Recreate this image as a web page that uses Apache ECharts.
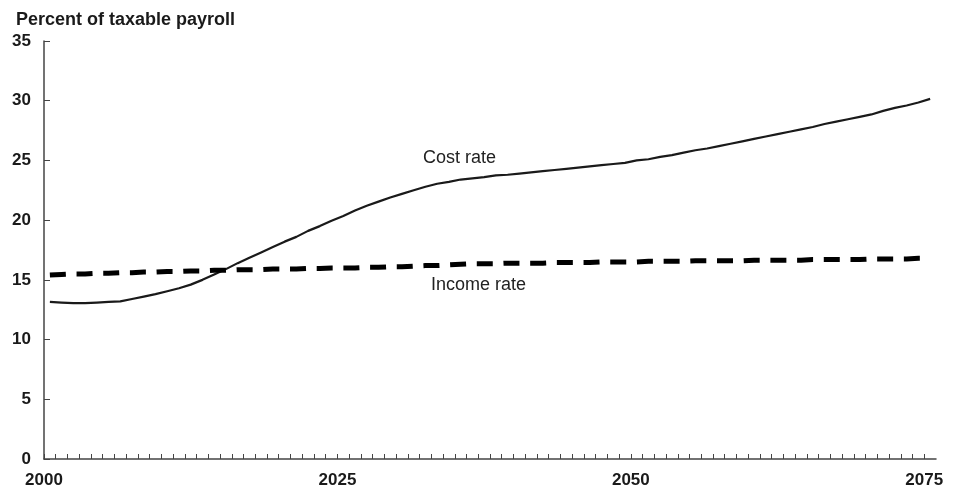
<!DOCTYPE html>
<html>
<head>
<meta charset="utf-8">
<script src="https://cdn.jsdelivr.net/npm/echarts@6/dist/echarts.min.js"></script>
<style>html,body{margin:0;padding:0;background:#fff;}#c{width:959px;height:492px;}</style>
</head>
<body>
<div id="c"></div>
<script>
var years = [];
for (var y = 2000; y <= 2075; y++) years.push(y);

var costRate = [
13.15,13.1,13.05,13.05,13.1,13.15,13.2,13.4,13.6,13.8,
14.05,14.3,14.6,15.0,15.45,15.9,16.4,16.85,17.3,17.75,
18.2,18.6,19.1,19.5,19.95,20.35,20.8,21.2,21.55,21.9,
22.2,22.5,22.8,23.05,23.2,23.4,23.5,23.6,23.75,23.8,
23.9,24.0,24.1,24.2,24.3,24.4,24.5,24.6,24.7,24.8,
25.0,25.1,25.3,25.45,25.65,25.85,26.0,26.2,26.4,26.6,
26.8,27.0,27.2,27.4,27.6,27.8,28.05,28.25,28.45,28.65,
28.85,29.15,29.4,29.6,29.85,30.15
];

var incomeRate = [
15.4,15.45,15.5,15.5,15.55,15.55,15.6,15.6,15.65,15.65,
15.7,15.7,15.75,15.75,15.8,15.8,15.85,15.85,15.85,15.9,
15.9,15.9,15.95,15.95,16.0,16.0,16.0,16.05,16.05,16.1,
16.1,16.15,16.2,16.2,16.25,16.3,16.35,16.35,16.35,16.4,
16.4,16.4,16.4,16.45,16.45,16.45,16.45,16.5,16.5,16.5,
16.5,16.55,16.55,16.55,16.55,16.6,16.6,16.6,16.6,16.6,
16.65,16.65,16.65,16.65,16.65,16.7,16.7,16.7,16.7,16.7,
16.75,16.75,16.75,16.75,16.8,16.8
];

var yTicks = [0,5,10,15,20,25,30,35];
var xLabelYears = [2000,2025,2050,2075];

function pairs(vals) {
  return years.map(function (yr, i) { return [yr + 0.5, vals[i]]; });
}

var axisColor = '#444';
var fam = '"Liberation Sans", Arial, sans-serif';
var chart = echarts.init(document.getElementById('c'));
chart.setOption({
  animation: false,
  backgroundColor: '#fff',
  grid: { left: 44, right: 23, top: 41, bottom: 33 },
  title: {
    text: 'Percent of taxable payroll',
    left: 11, top: 6,
    textStyle: { fontFamily: fam, fontWeight: 'bold', fontSize: 18, color: '#1a1a1a' }
  },
  xAxis: {
    type: 'value', min: 2000, max: 2076, interval: 1,
    axisLine: { show: true, lineStyle: { color: axisColor, width: 1.5 } },
    axisTick: { show: true, inside: true, length: 5, lineStyle: { color: axisColor, width: 1 } },
    splitLine: { show: false },
    axisLabel: {
      margin: 13,
      fontFamily: fam, fontWeight: 'bold', fontSize: 17, color: '#1a1a1a',
      showMaxLabel: false,
      formatter: function (v) { return xLabelYears.indexOf(v) >= 0 ? String(v) : ''; }
    }
  },
  yAxis: {
    type: 'value', min: yTicks[0], max: yTicks[yTicks.length - 1], interval: 5,
    axisLine: { show: true, lineStyle: { color: axisColor, width: 1.5 } },
    axisTick: { show: true, inside: true, length: 6, lineStyle: { color: axisColor, width: 1 } },
    splitLine: { show: false },
    axisLabel: {
      margin: 13,
      fontFamily: fam, fontWeight: 'bold', fontSize: 17, color: '#1a1a1a'
    }
  },
  series: [
    {
      name: 'Cost rate', type: 'line', data: pairs(costRate), showSymbol: false, symbol: 'none',
      lineStyle: { color: '#1a1a1a', width: 2.2 }
    },
    {
      name: 'Income rate', type: 'line', data: pairs(incomeRate), showSymbol: false, symbol: 'none',
      lineStyle: { color: '#000', width: 5, type: [16, 10.7] }
    }
  ],
  graphic: [
    { type: 'text', left: 423, top: 149, style: { text: 'Cost rate', font: '18px "Liberation Sans", Arial, sans-serif', fill: '#222' } },
    { type: 'text', left: 431, top: 276, style: { text: 'Income rate', font: '18px "Liberation Sans", Arial, sans-serif', fill: '#222' } }
  ]
});
</script>
</body>
</html>
